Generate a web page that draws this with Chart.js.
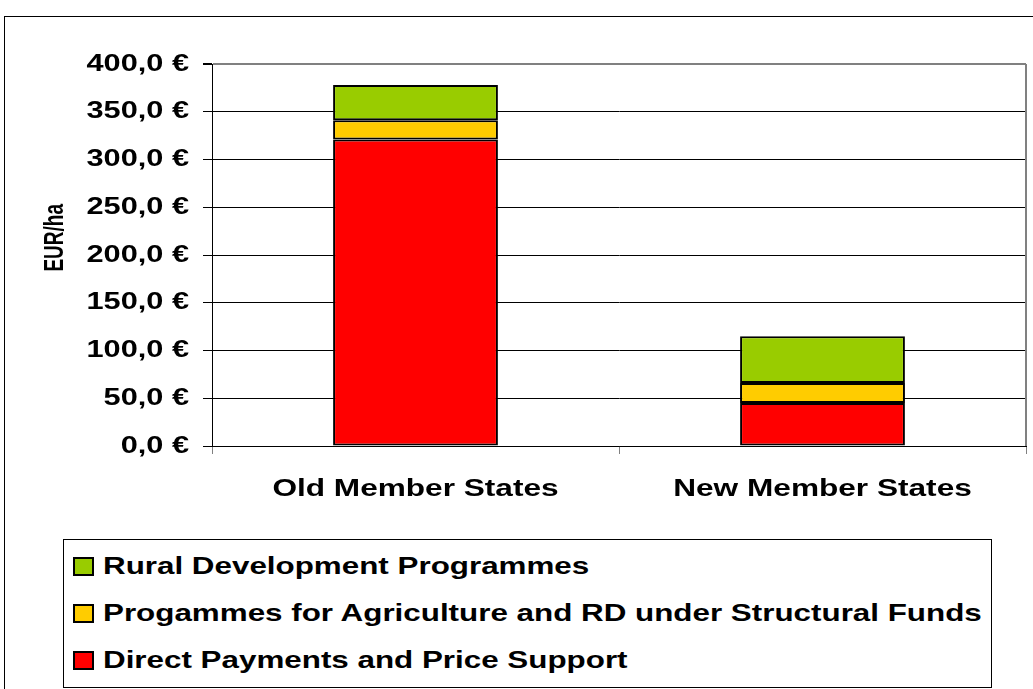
<!DOCTYPE html>
<html><head><meta charset="utf-8">
<script src="https://cdn.jsdelivr.net/npm/chart.js@4.4.1/dist/chart.umd.min.js"></script>
<style>
html,body{margin:0;padding:0;background:#fff;overflow:hidden}
#wrap{position:relative;width:1033px;height:689px;overflow:hidden;background:#fff}
#frame{position:absolute;left:4px;top:16px;width:1100px;height:800px;border:1px solid #000;box-sizing:border-box}
canvas{position:absolute;left:0;top:0}
#legend{position:absolute;left:63px;top:539px;width:929px;height:149px;border:1px solid #000;box-sizing:border-box;background:#fff}
.item{position:absolute;left:9px;height:30px;display:flex;align-items:center;white-space:nowrap}
.sw{width:21px;height:19px;border:2px solid #000;box-sizing:border-box;margin-right:9px;flex:none}
.tx{font:bold 24.5px 'Liberation Sans',Arial,sans-serif;transform:scaleX(1.28);transform-origin:left center;color:#000}
</style>
</head><body>
<div id="wrap">
  <div id="frame"></div>
  <canvas id="c" width="1033" height="689"></canvas>
  <div id="legend"></div>
</div>
<script>
const categories = ['Old Member States', 'New Member States'];
const seriesNames = ['Direct Payments and Price Support', 'Progammes for Agriculture and RD under Structural Funds', 'Rural Development Programmes'];
const directPayments = [321, 45];
const structuralFunds = [20, 21];
const ruralDevelopment = [37, 49];
const seriesColors = ['#FF0000', '#FFCC00', '#99CC00'];
const yTickLabels = ['0,0 €', '50,0 €', '100,0 €', '150,0 €', '200,0 €', '250,0 €', '300,0 €', '350,0 €', '400,0 €'];
const yAxisTitle = 'EUR/ha';

const K = 1.28; // horizontal stretch of the original picture's text
Chart.defaults.font.family = "'Liberation Sans', Arial, sans-serif";
Chart.defaults.font.weight = 'bold';
Chart.defaults.color = '#000';

const canvas = document.getElementById('c');
const ctx = canvas.getContext('2d');
const origFill = ctx.fillText;
const origMeasure = ctx.measureText;
ctx.fillText = function (text, x, y, maxWidth) {
  const m = this.getTransform();
  const px = m.a * x + m.c * y + m.e;
  const py = m.b * x + m.d * y + m.f;
  this.save();
  this.setTransform(1, 0, 0, 1, 0, 0);
  this.translate(px, py);
  this.scale(K, 1);
  this.translate(-px, -py);
  this.transform(m.a, m.b, m.c, m.d, m.e, m.f);
  if (maxWidth !== undefined && maxWidth !== null) origFill.call(this, text, x, y, maxWidth / K);
  else origFill.call(this, text, x, y);
  this.restore();
};
ctx.measureText = function (text) {
  const r = origMeasure.call(this, text);
  return { width: r.width * K, actualBoundingBoxAscent: r.actualBoundingBoxAscent, actualBoundingBoxDescent: r.actualBoundingBoxDescent };
};

const plotBorder = {
  id: 'plotBorder',
  afterDraw(chart) {
    const a = chart.chartArea, c = chart.ctx;
    c.save();
    c.strokeStyle = '#808080';
    c.lineWidth = 2;
    c.beginPath();
    c.moveTo(a.right, a.top);
    c.lineTo(a.right, a.bottom);
    c.stroke();
    c.restore();
    // rotated y-axis title, placed like the reference (slightly above centre)
    const ys = chart.scales.y;
    c.save();
    c.translate(55, ys.getPixelForValue(218));
    c.scale(1.5, 1);
    c.rotate(-Math.PI / 2);
    c.font = "bold 19px 'Liberation Sans', Arial, sans-serif";
    c.fillStyle = '#000';
    c.textAlign = 'center';
    c.textBaseline = 'middle';
    origFill.call(c, yAxisTitle, 0, 0);
    c.restore();
  }
};

const dataArrays = [directPayments, structuralFunds, ruralDevelopment];
new Chart(ctx, {
  type: 'bar',
  data: {
    labels: categories,
    datasets: dataArrays.map((d, i) => ({
      label: seriesNames[i],
      data: d,
      backgroundColor: seriesColors[i]
    }))
  },
  options: {
    responsive: false,
    animation: false,
    devicePixelRatio: 1,
    layout: { padding: { left: 0, right: 7, top: 64, bottom: 143 } },
    plugins: { legend: { display: false }, tooltip: { enabled: false } },
    datasets: { bar: { borderColor: '#000', borderWidth: 2, barPercentage: 0.405, categoryPercentage: 1, borderSkipped: false } },
    scales: {
      x: {
        stacked: true,
        offset: true,
        grid: { offset: true, drawOnChartArea: false, tickLength: 8, color: '#808080', tickColor: '#808080' },
        border: { color: '#000', width: 1 },
        ticks: { padding: 20, color: '#000', font: { size: 24.7, weight: 'bold' }, maxRotation: 0, autoSkip: false },
        afterFit(s) { s.height = 100; }
      },
      y: {
        stacked: true,
        min: 0, max: 400,
        ticks: { stepSize: 50, padding: 14, color: '#000', font: { size: 24, weight: 'bold' }, callback: (v, i) => yTickLabels[i] },
        grid: {
          color: c => (c.tick && c.tick.value === 400) ? '#808080' : '#000',
          lineWidth: c => (c.tick && c.tick.value === 400) ? 2 : 1,
          tickLength: 9, tickColor: '#000'
        },
        border: { color: '#000', width: 1 },
        title: { display: false, text: yAxisTitle },
        afterFit(s) { s.width = 212; }
      }
    }
  },
  plugins: [plotBorder]
});

// HTML legend (reverse order like the reference)
const leg = document.getElementById('legend');
const rowCenters = [27, 74, 121];
[2, 1, 0].forEach((si, r) => {
  const it = document.createElement('div');
  it.className = 'item';
  it.style.top = (rowCenters[r] - 16) + 'px';
  const sw = document.createElement('div');
  sw.className = 'sw';
  sw.style.background = seriesColors[si];
  const tx = document.createElement('span');
  tx.className = 'tx';
  tx.textContent = seriesNames[si];
  it.appendChild(sw); it.appendChild(tx);
  leg.appendChild(it);
});
</script>
</body></html>
